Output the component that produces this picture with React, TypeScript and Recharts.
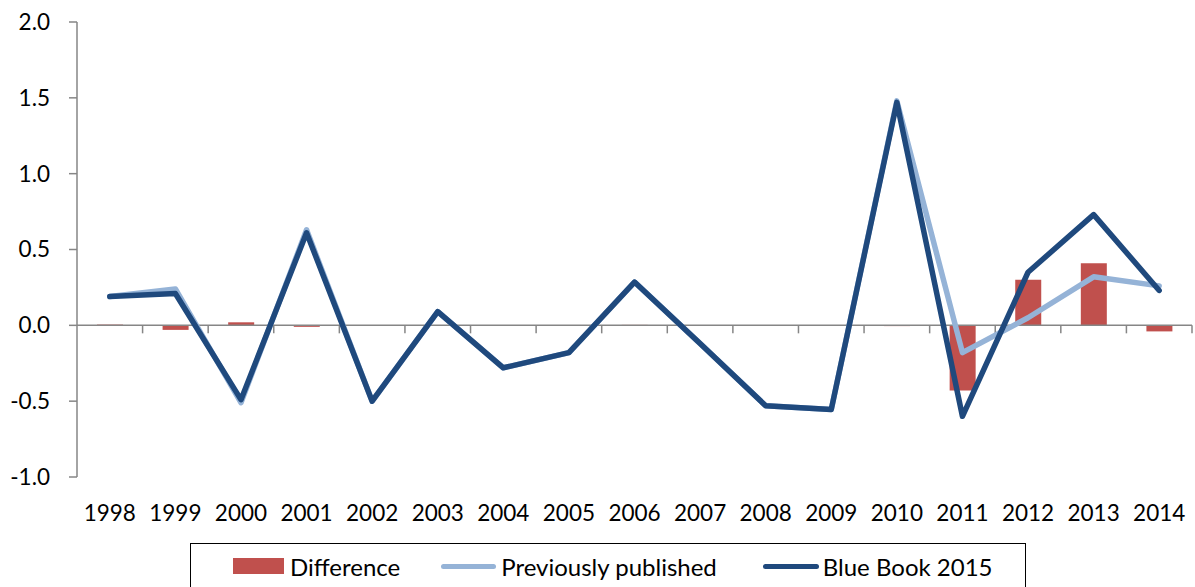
import React from 'react';
import {
  ComposedChart,
  Bar,
  Line,
  XAxis,
  YAxis,
  ReferenceLine,
  Legend
} from 'recharts';

const years = [
  '1998', '1999', '2000', '2001', '2002', '2003', '2004', '2005', '2006',
  '2007', '2008', '2009', '2010', '2011', '2012', '2013', '2014'
];
const difference = [
  0.005, -0.03, 0.02, -0.01, 0, 0, 0, 0, 0.003,
  0, 0, 0, -0.005, -0.43, 0.3, 0.41, -0.04
];
const previouslyPublished = [
  0.19, 0.24, -0.51, 0.63, -0.5, 0.09, -0.28, -0.18, 0.285,
  -0.12, -0.53, -0.555, 1.48, -0.18, 0.05, 0.32, 0.26
];
const blueBook2015 = [
  0.19, 0.21, -0.49, 0.61, -0.5, 0.09, -0.28, -0.18, 0.285,
  -0.12, -0.53, -0.555, 1.47, -0.6, 0.35, 0.73, 0.23
];
const yTicks = [-1, -0.5, 0, 0.5, 1, 1.5, 2];

const COLORS = {
  difference: '#C0504D',
  previous: '#95B3D7',
  blueBook: '#1F497D',
  axis: '#868686'
};

const data = years.map((year, i) => ({
  year,
  difference: difference[i],
  previous: previouslyPublished[i],
  blueBook: blueBook2015[i]
}));

// horizontal axis at zero with tick marks between the categories
const ZeroAxis = (props: any) => {
  const { x1, x2, y1 } = props;
  const step = (x2 - x1) / years.length;
  return (
    <g>
      <line x1={x1} x2={x2} y1={y1} y2={y1} stroke={COLORS.axis} strokeWidth={1.5} />
      {years.map((_, i) => (
        <line
          key={i}
          x1={x1 + step * (i + 1)}
          x2={x1 + step * (i + 1)}
          y1={y1}
          y2={y1 + 8}
          stroke={COLORS.axis}
          strokeWidth={1.5}
        />
      ))}
    </g>
  );
};

const LegendBox = () => (
  <div
    style={{
      boxSizing: 'border-box',
      width: 836,
      height: 60,
      border: '1.5px solid #000',
      background: '#fff',
      display: 'flex',
      alignItems: 'center',
      paddingLeft: 42,
      paddingBottom: 14,
      fontFamily: 'Lato',
      fontSize: 24,
      color: '#000'
    }}
  >
    <span style={{ width: 51, height: 16, background: COLORS.difference, marginRight: 6 }} />
    <span style={{ marginRight: 41 }}>Difference</span>
    <span style={{ width: 55, height: 5, borderRadius: 3, background: COLORS.previous, marginRight: 5 }} />
    <span style={{ marginRight: 46 }}>Previously published</span>
    <span style={{ width: 56, height: 5, borderRadius: 3, background: COLORS.blueBook, marginRight: 4 }} />
    <span>Blue Book 2015</span>
  </div>
);

export default function App() {
  return (
    <div style={{ position: 'absolute', left: 0, top: 0, fontFamily: 'Lato' }}>
      <ComposedChart
        width={1195}
        height={587}
        data={data}
        margin={{ top: 22, right: 3, left: 0, bottom: 0 }}
      >
        <XAxis
          dataKey="year"
          axisLine={false}
          tickLine={false}
          tickSize={0}
          tickMargin={28}
          height={66}
          interval={0}
          tick={{ fill: '#000', fontSize: 22.5 }}
        />
        <YAxis
          domain={[-1, 2]}
          ticks={yTicks}
          width={77}
          allowDataOverflow
          axisLine={{ stroke: COLORS.axis, strokeWidth: 1.5 }}
          tickLine={{ stroke: COLORS.axis, strokeWidth: 1.5 }}
          tickSize={8}
          tickMargin={19}
          tickFormatter={(v: number) => v.toFixed(1)}
          tick={{ fill: '#000', fontSize: 22.5 }}
        />
        <Bar
          dataKey="difference"
          name="Difference"
          fill={COLORS.difference}
          barSize={26}
          isAnimationActive={false}
        />
        <ReferenceLine y={0} shape={ZeroAxis} />
        <Line
          type="linear"
          dataKey="previous"
          name="Previously published"
          stroke={COLORS.previous}
          strokeWidth={5.5}
          strokeLinecap="round"
          strokeLinejoin="round"
          dot={false}
          isAnimationActive={false}
        />
        <Line
          type="linear"
          dataKey="blueBook"
          name="Blue Book 2015"
          stroke={COLORS.blueBook}
          strokeWidth={5.5}
          strokeLinecap="round"
          strokeLinejoin="round"
          dot={false}
          isAnimationActive={false}
        />
        <Legend
          verticalAlign="bottom"
          content={<LegendBox />}
          wrapperStyle={{ left: 190, width: 836, height: 44 }}
        />
      </ComposedChart>
    </div>
  );
}
